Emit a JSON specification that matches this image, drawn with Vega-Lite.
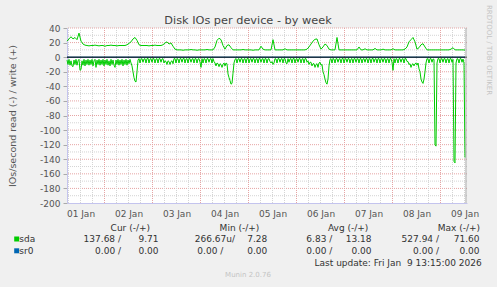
{
  "$schema": "https://vega.github.io/schema/vega-lite/v6.json",
  "width": 400,
  "height": 175,
  "autosize": "none",
  "padding": {"left": 67, "top": 28, "right": 30, "bottom": 84},
  "background": "#f0f0f0",
  "config": {"view": {"stroke": null, "fill": "#ffffff"}, "font": "DejaVu Sans"},
  "datasets": {
    "d": [
      {"t":"2026-01-01T05:15","w":22},{"t":"2026-01-01T06:15","w":25},{"t":"2026-01-01T07:15","w":28},{"t":"2026-01-01T08:15","w":25},{"t":"2026-01-01T09:15","w":27},{"t":"2026-01-01T10:15","w":24},{"t":"2026-01-01T11:15","w":33},{"t":"2026-01-01T12:15","w":22},{"t":"2026-01-01T13:15","w":18},{"t":"2026-01-01T14:15","w":16.5},{"t":"2026-01-01T15:15","w":16},{"t":"2026-01-01T16:15","w":15.5},{"t":"2026-01-01T17:15","w":16},{"t":"2026-01-01T18:15","w":16},{"t":"2026-01-01T19:15","w":16.5},{"t":"2026-01-01T20:15","w":16},{"t":"2026-01-01T21:15","w":15.5},{"t":"2026-01-01T22:15","w":16},{"t":"2026-01-01T23:15","w":16},
      {"t":"2026-01-02T00:15","w":15},{"t":"2026-01-02T01:15","w":16},{"t":"2026-01-02T02:15","w":16},{"t":"2026-01-02T03:15","w":16.5},{"t":"2026-01-02T04:15","w":16},{"t":"2026-01-02T05:15","w":16},{"t":"2026-01-02T06:15","w":15.5},{"t":"2026-01-02T07:15","w":16},{"t":"2026-01-02T08:15","w":16},{"t":"2026-01-02T09:15","w":16},{"t":"2026-01-02T10:15","w":16},{"t":"2026-01-02T11:15","w":17},{"t":"2026-01-02T12:15","w":19},{"t":"2026-01-02T13:15","w":21},{"t":"2026-01-02T14:15","w":25},{"t":"2026-01-02T15:15","w":27},{"t":"2026-01-02T16:15","w":23},{"t":"2026-01-02T17:15","w":17},{"t":"2026-01-02T18:15","w":16},{"t":"2026-01-02T19:15","w":16},{"t":"2026-01-02T20:15","w":16},{"t":"2026-01-02T21:15","w":16},{"t":"2026-01-02T22:15","w":15.5},{"t":"2026-01-02T23:15","w":16},
      {"t":"2026-01-03T00:15","w":16},{"t":"2026-01-03T01:15","w":16.5},{"t":"2026-01-03T02:15","w":16},{"t":"2026-01-03T03:15","w":16},{"t":"2026-01-03T04:15","w":16},{"t":"2026-01-03T05:15","w":17},{"t":"2026-01-03T06:15","w":19.5},{"t":"2026-01-03T07:15","w":21},{"t":"2026-01-03T08:15","w":18},{"t":"2026-01-03T09:15","w":19.5},{"t":"2026-01-03T10:15","w":15},{"t":"2026-01-03T11:15","w":11},{"t":"2026-01-03T12:15","w":10},{"t":"2026-01-03T13:15","w":10},{"t":"2026-01-03T14:15","w":10},{"t":"2026-01-03T15:15","w":9.5},{"t":"2026-01-03T16:15","w":10},{"t":"2026-01-03T17:15","w":10},{"t":"2026-01-03T18:15","w":10},{"t":"2026-01-03T19:15","w":10.5},{"t":"2026-01-03T20:15","w":10},{"t":"2026-01-03T21:15","w":10},{"t":"2026-01-03T22:15","w":9.5},{"t":"2026-01-03T23:15","w":10},
      {"t":"2026-01-04T00:15","w":10},{"t":"2026-01-04T01:15","w":10},{"t":"2026-01-04T02:15","w":10},{"t":"2026-01-04T03:15","w":10.5},{"t":"2026-01-04T04:15","w":10},{"t":"2026-01-04T05:15","w":10},{"t":"2026-01-04T06:15","w":10},{"t":"2026-01-04T07:15","w":14},{"t":"2026-01-04T08:15","w":23},{"t":"2026-01-04T09:15","w":26},{"t":"2026-01-04T10:15","w":24},{"t":"2026-01-04T11:15","w":16},{"t":"2026-01-04T12:15","w":11},{"t":"2026-01-04T13:15","w":16},{"t":"2026-01-04T14:15","w":17},{"t":"2026-01-04T15:15","w":13},{"t":"2026-01-04T16:15","w":10},{"t":"2026-01-04T17:15","w":10},{"t":"2026-01-04T18:15","w":10},{"t":"2026-01-04T19:15","w":10},{"t":"2026-01-04T20:15","w":10},{"t":"2026-01-04T21:15","w":10.5},{"t":"2026-01-04T22:15","w":10},{"t":"2026-01-04T23:15","w":10},
      {"t":"2026-01-05T00:15","w":10},{"t":"2026-01-05T01:15","w":10},{"t":"2026-01-05T02:15","w":9.5},{"t":"2026-01-05T03:15","w":10},{"t":"2026-01-05T04:15","w":10},{"t":"2026-01-05T05:15","w":10},{"t":"2026-01-05T06:15","w":15},{"t":"2026-01-05T07:15","w":11},{"t":"2026-01-05T08:15","w":10},{"t":"2026-01-05T09:15","w":10},{"t":"2026-01-05T10:15","w":10},{"t":"2026-01-05T11:15","w":10},{"t":"2026-01-05T12:15","w":24},{"t":"2026-01-05T13:15","w":10},{"t":"2026-01-05T14:15","w":10},{"t":"2026-01-05T15:15","w":10},{"t":"2026-01-05T16:15","w":10},{"t":"2026-01-05T17:15","w":10},{"t":"2026-01-05T18:15","w":11.5},{"t":"2026-01-05T19:15","w":10},{"t":"2026-01-05T20:15","w":10},{"t":"2026-01-05T21:15","w":10},{"t":"2026-01-05T22:15","w":10},{"t":"2026-01-05T23:15","w":10},
      {"t":"2026-01-06T00:15","w":10},{"t":"2026-01-06T01:15","w":10},{"t":"2026-01-06T02:15","w":10},{"t":"2026-01-06T03:15","w":10},{"t":"2026-01-06T04:15","w":10},{"t":"2026-01-06T05:15","w":11},{"t":"2026-01-06T06:15","w":14},{"t":"2026-01-06T07:15","w":18},{"t":"2026-01-06T08:15","w":22},{"t":"2026-01-06T09:15","w":24.5},{"t":"2026-01-06T10:15","w":25},{"t":"2026-01-06T11:15","w":17},{"t":"2026-01-06T12:15","w":11},{"t":"2026-01-06T13:15","w":14},{"t":"2026-01-06T14:15","w":18},{"t":"2026-01-06T15:15","w":16},{"t":"2026-01-06T16:15","w":11},{"t":"2026-01-06T17:15","w":10},{"t":"2026-01-06T18:15","w":10},{"t":"2026-01-06T19:15","w":10},{"t":"2026-01-06T20:15","w":27},{"t":"2026-01-06T21:15","w":10},{"t":"2026-01-06T22:15","w":10},{"t":"2026-01-06T23:15","w":10},
      {"t":"2026-01-07T00:15","w":10},{"t":"2026-01-07T01:15","w":10},{"t":"2026-01-07T02:15","w":10},{"t":"2026-01-07T03:15","w":10},{"t":"2026-01-07T04:15","w":10},{"t":"2026-01-07T05:15","w":10},{"t":"2026-01-07T06:15","w":10},{"t":"2026-01-07T07:15","w":14},{"t":"2026-01-07T08:15","w":10},{"t":"2026-01-07T09:15","w":10},{"t":"2026-01-07T10:15","w":11.5},{"t":"2026-01-07T11:15","w":10},{"t":"2026-01-07T12:15","w":10},{"t":"2026-01-07T13:15","w":10},{"t":"2026-01-07T14:15","w":10},{"t":"2026-01-07T15:15","w":12},{"t":"2026-01-07T16:15","w":10},{"t":"2026-01-07T17:15","w":10},{"t":"2026-01-07T18:15","w":10},{"t":"2026-01-07T19:15","w":11},{"t":"2026-01-07T20:15","w":10},{"t":"2026-01-07T21:15","w":10},{"t":"2026-01-07T22:15","w":10},{"t":"2026-01-07T23:15","w":10},
      {"t":"2026-01-08T00:15","w":11.5},{"t":"2026-01-08T01:15","w":10},{"t":"2026-01-08T02:15","w":10},{"t":"2026-01-08T03:15","w":10},{"t":"2026-01-08T04:15","w":10},{"t":"2026-01-08T05:15","w":10},{"t":"2026-01-08T06:15","w":11},{"t":"2026-01-08T07:15","w":14},{"t":"2026-01-08T08:15","w":21},{"t":"2026-01-08T09:15","w":24},{"t":"2026-01-08T10:15","w":27},{"t":"2026-01-08T11:15","w":21},{"t":"2026-01-08T12:15","w":11},{"t":"2026-01-08T13:15","w":13},{"t":"2026-01-08T14:15","w":17},{"t":"2026-01-08T15:15","w":18.5},{"t":"2026-01-08T16:15","w":14},{"t":"2026-01-08T17:15","w":10},{"t":"2026-01-08T18:15","w":10},{"t":"2026-01-08T19:15","w":10},{"t":"2026-01-08T20:15","w":10},{"t":"2026-01-08T21:15","w":10},{"t":"2026-01-08T22:15","w":10},{"t":"2026-01-08T23:15","w":10},
      {"t":"2026-01-09T00:15","w":10},{"t":"2026-01-09T01:15","w":10},{"t":"2026-01-09T02:15","w":10},{"t":"2026-01-09T03:15","w":10},{"t":"2026-01-09T04:15","w":10},{"t":"2026-01-09T05:15","w":11},{"t":"2026-01-09T06:15","w":13},{"t":"2026-01-09T07:15","w":10},{"t":"2026-01-09T08:15","w":10},{"t":"2026-01-09T09:15","w":10},{"t":"2026-01-09T10:15","w":10},{"t":"2026-01-09T11:15","w":10},{"t":"2026-01-09T12:15","w":9.71}
    ],
    "rd": [
      {"t":"2026-01-01T05:15","v":-4},{"t":"2026-01-01T05:45","v":-10},{"t":"2026-01-01T06:15","v":-3},{"t":"2026-01-01T06:45","v":-11},{"t":"2026-01-01T07:15","v":-5},{"t":"2026-01-01T07:45","v":-12},{"t":"2026-01-01T08:15","v":-13},{"t":"2026-01-01T08:45","v":-4},{"t":"2026-01-01T09:15","v":-10},{"t":"2026-01-01T09:45","v":-3},{"t":"2026-01-01T10:15","v":-11},{"t":"2026-01-01T10:45","v":-5},{"t":"2026-01-01T11:15","v":-3},{"t":"2026-01-01T11:45","v":-18},{"t":"2026-01-01T12:15","v":-17},{"t":"2026-01-01T12:45","v":-5},{"t":"2026-01-01T13:15","v":-11},{"t":"2026-01-01T13:45","v":-3},{"t":"2026-01-01T14:15","v":-12},{"t":"2026-01-01T14:45","v":-4},{"t":"2026-01-01T15:15","v":-10},{"t":"2026-01-01T15:45","v":-3},{"t":"2026-01-01T16:15","v":-11},{"t":"2026-01-01T16:45","v":-4},{"t":"2026-01-01T17:15","v":-10},{"t":"2026-01-01T17:45","v":-3},{"t":"2026-01-01T18:15","v":-12},{"t":"2026-01-01T18:45","v":-5},{"t":"2026-01-01T19:15","v":-3},{"t":"2026-01-01T19:45","v":-14},{"t":"2026-01-01T20:15","v":-4},{"t":"2026-01-01T20:45","v":-10},{"t":"2026-01-01T21:15","v":-3},{"t":"2026-01-01T21:45","v":-11},{"t":"2026-01-01T22:15","v":-4},{"t":"2026-01-01T22:45","v":-10},{"t":"2026-01-01T23:15","v":-3},{"t":"2026-01-01T23:45","v":-12},
      {"t":"2026-01-02T00:15","v":-4},{"t":"2026-01-02T00:45","v":-10},{"t":"2026-01-02T01:15","v":-3},{"t":"2026-01-02T01:45","v":-11},{"t":"2026-01-02T02:15","v":-5},{"t":"2026-01-02T02:45","v":-12},{"t":"2026-01-02T03:15","v":-3},{"t":"2026-01-02T03:45","v":-10},{"t":"2026-01-02T04:15","v":-4},{"t":"2026-01-02T04:45","v":-11},{"t":"2026-01-02T05:15","v":-14},{"t":"2026-01-02T05:45","v":-4},{"t":"2026-01-02T06:15","v":-10},{"t":"2026-01-02T06:45","v":-3},{"t":"2026-01-02T07:15","v":-11},{"t":"2026-01-02T07:45","v":-4},{"t":"2026-01-02T08:15","v":-10},{"t":"2026-01-02T08:45","v":-3},{"t":"2026-01-02T09:15","v":-12},{"t":"2026-01-02T09:45","v":-4},{"t":"2026-01-02T10:15","v":-10},{"t":"2026-01-02T10:45","v":-3},{"t":"2026-01-02T11:15","v":-11},{"t":"2026-01-02T11:45","v":-4},{"t":"2026-01-02T12:15","v":-9},{"t":"2026-01-02T12:45","v":-3},{"t":"2026-01-02T13:15","v":-8},{"t":"2026-01-02T13:45","v":-12},{"t":"2026-01-02T14:15","v":-20},{"t":"2026-01-02T14:45","v":-28},{"t":"2026-01-02T15:15","v":-33},{"t":"2026-01-02T15:45","v":-34},{"t":"2026-01-02T16:15","v":-20},{"t":"2026-01-02T16:45","v":-4},{"t":"2026-01-02T17:15","v":-2},{"t":"2026-01-02T17:45","v":-8},{"t":"2026-01-02T18:15","v":-2.5},{"t":"2026-01-02T18:45","v":-2},{"t":"2026-01-02T19:15","v":-7},{"t":"2026-01-02T19:45","v":-2.5},{"t":"2026-01-02T20:15","v":-2},{"t":"2026-01-02T20:45","v":-8},{"t":"2026-01-02T21:15","v":-2},{"t":"2026-01-02T21:45","v":-1.5},{"t":"2026-01-02T22:15","v":-8},{"t":"2026-01-02T22:45","v":-2.5},{"t":"2026-01-02T23:15","v":-2},{"t":"2026-01-02T23:45","v":-7},
      {"t":"2026-01-03T00:15","v":-2},{"t":"2026-01-03T00:45","v":-2},{"t":"2026-01-03T01:15","v":-8},{"t":"2026-01-03T01:45","v":-2.5},{"t":"2026-01-03T02:15","v":-2},{"t":"2026-01-03T02:45","v":-8},{"t":"2026-01-03T03:15","v":-2},{"t":"2026-01-03T03:45","v":-2},{"t":"2026-01-03T04:15","v":-7},{"t":"2026-01-03T04:45","v":-2.5},{"t":"2026-01-03T05:15","v":-2},{"t":"2026-01-03T05:45","v":-8},{"t":"2026-01-03T06:15","v":-5},{"t":"2026-01-03T06:45","v":-6},{"t":"2026-01-03T07:15","v":-10},{"t":"2026-01-03T07:45","v":-5},{"t":"2026-01-03T08:15","v":-6},{"t":"2026-01-03T08:45","v":-10},{"t":"2026-01-03T09:15","v":-6},{"t":"2026-01-03T09:45","v":-5},{"t":"2026-01-03T10:15","v":-9},{"t":"2026-01-03T10:45","v":-2},{"t":"2026-01-03T11:15","v":-2},{"t":"2026-01-03T11:45","v":-8},{"t":"2026-01-03T12:15","v":-2},{"t":"2026-01-03T12:45","v":-2.5},{"t":"2026-01-03T13:15","v":-8},{"t":"2026-01-03T13:45","v":-2},{"t":"2026-01-03T14:15","v":-2},{"t":"2026-01-03T14:45","v":-7},{"t":"2026-01-03T15:15","v":-2},{"t":"2026-01-03T15:45","v":-1.5},{"t":"2026-01-03T16:15","v":-8},{"t":"2026-01-03T16:45","v":-2.5},{"t":"2026-01-03T17:15","v":-2},{"t":"2026-01-03T17:45","v":-8},{"t":"2026-01-03T18:15","v":-2},{"t":"2026-01-03T18:45","v":-2},{"t":"2026-01-03T19:15","v":-7},{"t":"2026-01-03T19:45","v":-2.5},{"t":"2026-01-03T20:15","v":-2},{"t":"2026-01-03T20:45","v":-8},{"t":"2026-01-03T21:15","v":-2},{"t":"2026-01-03T21:45","v":-2},{"t":"2026-01-03T22:15","v":-8},{"t":"2026-01-03T22:45","v":-2.5},{"t":"2026-01-03T23:15","v":-2},{"t":"2026-01-03T23:45","v":-7},
      {"t":"2026-01-04T00:15","v":-14},{"t":"2026-01-04T00:45","v":-2},{"t":"2026-01-04T01:15","v":-8},{"t":"2026-01-04T01:45","v":-2},{"t":"2026-01-04T02:15","v":-2.5},{"t":"2026-01-04T02:45","v":-8},{"t":"2026-01-04T03:15","v":-2},{"t":"2026-01-04T03:45","v":-2},{"t":"2026-01-04T04:15","v":-7},{"t":"2026-01-04T04:45","v":-2.5},{"t":"2026-01-04T05:15","v":-2},{"t":"2026-01-04T05:45","v":-8},{"t":"2026-01-04T06:15","v":-2},{"t":"2026-01-04T06:45","v":-6},{"t":"2026-01-04T07:15","v":-8},{"t":"2026-01-04T07:45","v":-12},{"t":"2026-01-04T08:15","v":-8},{"t":"2026-01-04T08:45","v":-9},{"t":"2026-01-04T09:15","v":-13},{"t":"2026-01-04T09:45","v":-9},{"t":"2026-01-04T10:15","v":-10},{"t":"2026-01-04T10:45","v":-14},{"t":"2026-01-04T11:15","v":-10},{"t":"2026-01-04T11:45","v":-8},{"t":"2026-01-04T12:15","v":-12},{"t":"2026-01-04T12:45","v":-8},{"t":"2026-01-04T13:15","v":-9},{"t":"2026-01-04T13:45","v":-23},{"t":"2026-01-04T14:15","v":-28},{"t":"2026-01-04T14:45","v":-32},{"t":"2026-01-04T15:15","v":-37},{"t":"2026-01-04T15:45","v":-36},{"t":"2026-01-04T16:15","v":-22},{"t":"2026-01-04T16:45","v":-8},{"t":"2026-01-04T17:15","v":-3},{"t":"2026-01-04T17:45","v":-2},{"t":"2026-01-04T18:15","v":-8},{"t":"2026-01-04T18:45","v":-2.5},{"t":"2026-01-04T19:15","v":-2},{"t":"2026-01-04T19:45","v":-7},{"t":"2026-01-04T20:15","v":-2},{"t":"2026-01-04T20:45","v":-2},{"t":"2026-01-04T21:15","v":-8},{"t":"2026-01-04T21:45","v":-2.5},{"t":"2026-01-04T22:15","v":-2},{"t":"2026-01-04T22:45","v":-8},{"t":"2026-01-04T23:15","v":-2},{"t":"2026-01-04T23:45","v":-1.5},
      {"t":"2026-01-05T00:15","v":-8},{"t":"2026-01-05T00:45","v":-2.5},{"t":"2026-01-05T01:15","v":-2},{"t":"2026-01-05T01:45","v":-7},{"t":"2026-01-05T02:15","v":-2},{"t":"2026-01-05T02:45","v":-2},{"t":"2026-01-05T03:15","v":-8},{"t":"2026-01-05T03:45","v":-2.5},{"t":"2026-01-05T04:15","v":-2},{"t":"2026-01-05T04:45","v":-8},{"t":"2026-01-05T05:15","v":-2},{"t":"2026-01-05T05:45","v":-2},{"t":"2026-01-05T06:15","v":-7},{"t":"2026-01-05T06:45","v":-2.5},{"t":"2026-01-05T07:15","v":-2},{"t":"2026-01-05T07:45","v":-8},{"t":"2026-01-05T08:15","v":-2},{"t":"2026-01-05T08:45","v":-2},{"t":"2026-01-05T09:15","v":-8},{"t":"2026-01-05T09:45","v":-2.5},{"t":"2026-01-05T10:15","v":-2},{"t":"2026-01-05T10:45","v":-6},{"t":"2026-01-05T11:15","v":-8},{"t":"2026-01-05T11:45","v":-6},{"t":"2026-01-05T12:15","v":-10},{"t":"2026-01-05T12:45","v":-8},{"t":"2026-01-05T13:15","v":-2},{"t":"2026-01-05T13:45","v":-2.5},{"t":"2026-01-05T14:15","v":-8},{"t":"2026-01-05T14:45","v":-2},{"t":"2026-01-05T15:15","v":-2},{"t":"2026-01-05T15:45","v":-7},{"t":"2026-01-05T16:15","v":-2.5},{"t":"2026-01-05T16:45","v":-2},{"t":"2026-01-05T17:15","v":-8},{"t":"2026-01-05T17:45","v":-2},{"t":"2026-01-05T18:15","v":-2},{"t":"2026-01-05T18:45","v":-8},{"t":"2026-01-05T19:15","v":-9},{"t":"2026-01-05T19:45","v":-2},{"t":"2026-01-05T20:15","v":-7},{"t":"2026-01-05T20:45","v":-2.5},{"t":"2026-01-05T21:15","v":-2},{"t":"2026-01-05T21:45","v":-8},{"t":"2026-01-05T22:15","v":-2},{"t":"2026-01-05T22:45","v":-1.5},{"t":"2026-01-05T23:15","v":-8},{"t":"2026-01-05T23:45","v":-2.5},
      {"t":"2026-01-06T00:15","v":-2},{"t":"2026-01-06T00:45","v":-7},{"t":"2026-01-06T01:15","v":-2},{"t":"2026-01-06T01:45","v":-2},{"t":"2026-01-06T02:15","v":-8},{"t":"2026-01-06T02:45","v":-2.5},{"t":"2026-01-06T03:15","v":-2},{"t":"2026-01-06T03:45","v":-8},{"t":"2026-01-06T04:15","v":-2},{"t":"2026-01-06T04:45","v":-2},{"t":"2026-01-06T05:15","v":-7},{"t":"2026-01-06T05:45","v":-5},{"t":"2026-01-06T06:15","v":-10},{"t":"2026-01-06T06:45","v":-7},{"t":"2026-01-06T07:15","v":-7},{"t":"2026-01-06T07:45","v":-12},{"t":"2026-01-06T08:15","v":-9},{"t":"2026-01-06T08:45","v":-9},{"t":"2026-01-06T09:15","v":-14},{"t":"2026-01-06T09:45","v":-10},{"t":"2026-01-06T10:15","v":-9},{"t":"2026-01-06T10:45","v":-14},{"t":"2026-01-06T11:15","v":-8},{"t":"2026-01-06T11:45","v":-7},{"t":"2026-01-06T12:15","v":-11},{"t":"2026-01-06T12:45","v":-10},{"t":"2026-01-06T13:15","v":-20},{"t":"2026-01-06T13:45","v":-24},{"t":"2026-01-06T14:15","v":-30},{"t":"2026-01-06T14:45","v":-35},{"t":"2026-01-06T15:15","v":-37},{"t":"2026-01-06T15:45","v":-30},{"t":"2026-01-06T16:15","v":-12},{"t":"2026-01-06T16:45","v":-3},{"t":"2026-01-06T17:15","v":-2},{"t":"2026-01-06T17:45","v":-8},{"t":"2026-01-06T18:15","v":-2},{"t":"2026-01-06T18:45","v":-2.5},{"t":"2026-01-06T19:15","v":-8},{"t":"2026-01-06T19:45","v":-2},{"t":"2026-01-06T20:15","v":-2},{"t":"2026-01-06T20:45","v":-7},{"t":"2026-01-06T21:15","v":-2.5},{"t":"2026-01-06T21:45","v":-2},{"t":"2026-01-06T22:15","v":-8},{"t":"2026-01-06T22:45","v":-2},{"t":"2026-01-06T23:15","v":-1.5},{"t":"2026-01-06T23:45","v":-8},
      {"t":"2026-01-07T00:15","v":-2.5},{"t":"2026-01-07T00:45","v":-2},{"t":"2026-01-07T01:15","v":-7},{"t":"2026-01-07T01:45","v":-2},{"t":"2026-01-07T02:15","v":-2},{"t":"2026-01-07T02:45","v":-8},{"t":"2026-01-07T03:15","v":-2.5},{"t":"2026-01-07T03:45","v":-2},{"t":"2026-01-07T04:15","v":-8},{"t":"2026-01-07T04:45","v":-2},{"t":"2026-01-07T05:15","v":-2},{"t":"2026-01-07T05:45","v":-7},{"t":"2026-01-07T06:15","v":-2.5},{"t":"2026-01-07T06:45","v":-2},{"t":"2026-01-07T07:15","v":-8},{"t":"2026-01-07T07:45","v":-2},{"t":"2026-01-07T08:15","v":-2},{"t":"2026-01-07T08:45","v":-8},{"t":"2026-01-07T09:15","v":-2.5},{"t":"2026-01-07T09:45","v":-2},{"t":"2026-01-07T10:15","v":-7},{"t":"2026-01-07T10:45","v":-2},{"t":"2026-01-07T11:15","v":-2},{"t":"2026-01-07T11:45","v":-8},{"t":"2026-01-07T12:15","v":-2.5},{"t":"2026-01-07T12:45","v":-2},{"t":"2026-01-07T13:15","v":-8},{"t":"2026-01-07T13:45","v":-2},{"t":"2026-01-07T14:15","v":-1.5},{"t":"2026-01-07T14:45","v":-7},{"t":"2026-01-07T15:15","v":-2.5},{"t":"2026-01-07T15:45","v":-2},{"t":"2026-01-07T16:15","v":-8},{"t":"2026-01-07T16:45","v":-2},{"t":"2026-01-07T17:15","v":-2},{"t":"2026-01-07T17:45","v":-8},{"t":"2026-01-07T18:15","v":-2.5},{"t":"2026-01-07T18:45","v":-2},{"t":"2026-01-07T19:15","v":-7},{"t":"2026-01-07T19:45","v":-2},{"t":"2026-01-07T20:15","v":-2},{"t":"2026-01-07T20:45","v":-8},{"t":"2026-01-07T21:15","v":-2.5},{"t":"2026-01-07T21:45","v":-2},{"t":"2026-01-07T22:15","v":-8},{"t":"2026-01-07T22:45","v":-2},{"t":"2026-01-07T23:15","v":-2},{"t":"2026-01-07T23:45","v":-7},
      {"t":"2026-01-08T00:15","v":-18},{"t":"2026-01-08T00:45","v":-2},{"t":"2026-01-08T01:15","v":-8},{"t":"2026-01-08T01:45","v":-2},{"t":"2026-01-08T02:15","v":-2.5},{"t":"2026-01-08T02:45","v":-8},{"t":"2026-01-08T03:15","v":-2},{"t":"2026-01-08T03:45","v":-2},{"t":"2026-01-08T04:15","v":-7},{"t":"2026-01-08T04:45","v":-2.5},{"t":"2026-01-08T05:15","v":-2},{"t":"2026-01-08T05:45","v":-8},{"t":"2026-01-08T06:15","v":-2},{"t":"2026-01-08T06:45","v":-2},{"t":"2026-01-08T07:15","v":-6},{"t":"2026-01-08T07:45","v":-6},{"t":"2026-01-08T08:15","v":-10},{"t":"2026-01-08T08:45","v":-9},{"t":"2026-01-08T09:15","v":-14},{"t":"2026-01-08T09:45","v":-10},{"t":"2026-01-08T10:15","v":-9},{"t":"2026-01-08T10:45","v":-12},{"t":"2026-01-08T11:15","v":-9},{"t":"2026-01-08T11:45","v":-8},{"t":"2026-01-08T12:15","v":-11},{"t":"2026-01-08T12:45","v":-8},{"t":"2026-01-08T13:15","v":-16},{"t":"2026-01-08T13:45","v":-20},{"t":"2026-01-08T14:15","v":-30},{"t":"2026-01-08T14:45","v":-34},{"t":"2026-01-08T15:15","v":-36},{"t":"2026-01-08T15:45","v":-30},{"t":"2026-01-08T16:15","v":-20},{"t":"2026-01-08T16:45","v":-8},{"t":"2026-01-08T17:15","v":-2},{"t":"2026-01-08T17:45","v":-2.5},{"t":"2026-01-08T18:15","v":-8},{"t":"2026-01-08T18:45","v":-2},{"t":"2026-01-08T19:15","v":-2},{"t":"2026-01-08T19:45","v":-7},{"t":"2026-01-08T20:15","v":-2.5},{"t":"2026-01-08T20:45","v":-3},{"t":"2026-01-08T21:15","v":-120},{"t":"2026-01-08T21:45","v":-122},{"t":"2026-01-08T22:15","v":-8},{"t":"2026-01-08T22:45","v":-2},{"t":"2026-01-08T23:15","v":-2},{"t":"2026-01-08T23:45","v":-8},
      {"t":"2026-01-09T00:15","v":-2.5},{"t":"2026-01-09T00:45","v":-2},{"t":"2026-01-09T01:15","v":-7},{"t":"2026-01-09T01:45","v":-2},{"t":"2026-01-09T02:15","v":-2},{"t":"2026-01-09T02:45","v":-8},{"t":"2026-01-09T03:15","v":-2.5},{"t":"2026-01-09T03:45","v":-2},{"t":"2026-01-09T04:15","v":-8},{"t":"2026-01-09T04:45","v":-2},{"t":"2026-01-09T05:15","v":-2},{"t":"2026-01-09T05:45","v":-7},{"t":"2026-01-09T06:15","v":-3},{"t":"2026-01-09T06:45","v":-143},{"t":"2026-01-09T07:15","v":-145},{"t":"2026-01-09T07:45","v":-8},{"t":"2026-01-09T08:15","v":-2},{"t":"2026-01-09T08:45","v":-2.5},{"t":"2026-01-09T09:15","v":-8},{"t":"2026-01-09T09:45","v":-2},{"t":"2026-01-09T10:15","v":-2},{"t":"2026-01-09T10:45","v":-7},{"t":"2026-01-09T11:15","v":-2.5},{"t":"2026-01-09T11:45","v":-8},{"t":"2026-01-09T12:15","v":-137.68}
    ],
    "sr0": [{"t":"2026-01-01T05:15","v":0},{"t":"2026-01-09T12:15","v":0}],
    "zero": [{"v":0}],
    "edge": [{"t":"2026-01-09T12:45"}],
    "hmin": [{"v":-190},{"v":-170},{"v":-150},{"v":-130},{"v":-110},{"v":-90},{"v":-70},{"v":-50},{"v":-30},{"v":-10},{"v":10},{"v":30}],
    "hmaj": [{"v":-180},{"v":-160},{"v":-140},{"v":-120},{"v":-100},{"v":-80},{"v":-60},{"v":-40},{"v":-20},{"v":20},{"v":40}],
    "vmin": [
      {"t":"2026-01-01T06:00"},{"t":"2026-01-01T12:00"},{"t":"2026-01-01T18:00"},
      {"t":"2026-01-02T06:00"},{"t":"2026-01-02T12:00"},{"t":"2026-01-02T18:00"},
      {"t":"2026-01-03T06:00"},{"t":"2026-01-03T12:00"},{"t":"2026-01-03T18:00"},
      {"t":"2026-01-04T06:00"},{"t":"2026-01-04T12:00"},{"t":"2026-01-04T18:00"},
      {"t":"2026-01-05T06:00"},{"t":"2026-01-05T12:00"},{"t":"2026-01-05T18:00"},
      {"t":"2026-01-06T06:00"},{"t":"2026-01-06T12:00"},{"t":"2026-01-06T18:00"},
      {"t":"2026-01-07T06:00"},{"t":"2026-01-07T12:00"},{"t":"2026-01-07T18:00"},
      {"t":"2026-01-08T06:00"},{"t":"2026-01-08T12:00"},{"t":"2026-01-08T18:00"},
      {"t":"2026-01-09T06:00"},{"t":"2026-01-09T12:00"}
    ],
    "vmaj": [{"t":"2026-01-02T00:00"},{"t":"2026-01-03T00:00"},{"t":"2026-01-04T00:00"},{"t":"2026-01-05T00:00"},{"t":"2026-01-06T00:00"},{"t":"2026-01-07T00:00"},{"t":"2026-01-08T00:00"},{"t":"2026-01-09T00:00"}],
    "swatch": [{"dev":"sda","c":1,"r":4},{"dev":"sr0","c":1,"r":5}],
    "names": [{"txt":"sda","c":2,"r":4},{"txt":"sr0","c":2,"r":5}],
    "cells": [
      {"txt":"Cur (-/+)","c":4,"r":3},{"txt":"Min (-/+)","c":9,"r":3},{"txt":"Avg (-/+)","c":12,"r":3},{"txt":"Max (-/+)","c":16,"r":3},
      {"txt":"137.68 /","c":3,"r":4},{"txt":"9.71","c":5,"r":4},{"txt":"266.67u/","c":7,"r":4},{"txt":"7.28","c":10,"r":4},{"txt":"6.83 /","c":11,"r":4},{"txt":"13.18","c":13,"r":4},{"txt":"527.94 /","c":14,"r":4},{"txt":"71.60","c":15,"r":4},
      {"txt":"0.00 /","c":3,"r":5},{"txt":"0.00","c":5,"r":5},{"txt":"0.00 /","c":6,"r":5},{"txt":"0.00","c":10,"r":5},{"txt":"0.00 /","c":11,"r":5},{"txt":"0.00","c":13,"r":5},{"txt":"0.00 /","c":14,"r":5},{"txt":"0.00","c":15,"r":5},
      {"txt":"Last update: Fri Jan\u00a0 9 13:15:00 2026","c":17,"r":6}
    ],
    "title": [{"txt":"Disk IOs per device - by week","c":8,"r":1}],
    "munin": [{"txt":"Munin 2.0.76","c":8,"r":7}],
    "rrd": [{"txt":"RRDTOOL / TOBI OETIKER","c":18,"r":2}]
  },
  "layer": [
    {"data":{"name":"hmin"},"mark":{"type":"rule","color":"#d4d4d4","strokeDash":[1,1],"strokeWidth":1},
     "encoding":{"y":{"field":"v","type":"quantitative","scale":{"domain":[-200,40],"nice":false,"zero":false},"axis":null}}},
    {"data":{"name":"hmaj"},"mark":{"type":"rule","color":"#e6a4a4","strokeDash":[1,1],"strokeWidth":1},
     "encoding":{"y":{"field":"v","type":"quantitative","scale":{"domain":[-200,40],"nice":false,"zero":false},"axis":null}}},
    {"data":{"name":"vmin"},"mark":{"type":"rule","color":"#d4d4d4","strokeDash":[1,1],"strokeWidth":1},
     "encoding":{"x":{"field":"t","type":"temporal","scale":{"domain":[{"year":2026,"month":1,"date":1,"hours":5,"minutes":15},{"year":2026,"month":1,"date":9,"hours":13,"minutes":15}]},"axis":null}}},
    {"data":{"name":"vmaj"},"mark":{"type":"rule","color":"#e6a4a4","strokeDash":[1,1],"strokeWidth":1},
     "encoding":{"x":{"field":"t","type":"temporal","scale":{"domain":[{"year":2026,"month":1,"date":1,"hours":5,"minutes":15},{"year":2026,"month":1,"date":9,"hours":13,"minutes":15}]},"axis":null}}},
    {"data":{"name":"sr0"},"mark":{"type":"line","color":"#0066b3","strokeWidth":1},
     "encoding":{"x":{"field":"t","type":"temporal","scale":{"domain":[{"year":2026,"month":1,"date":1,"hours":5,"minutes":15},{"year":2026,"month":1,"date":9,"hours":13,"minutes":15}]},"axis":null},
                 "y":{"field":"v","type":"quantitative","scale":{"domain":[-200,40],"nice":false,"zero":false},"axis":null}}},
    {"data":{"name":"d"},"mark":{"type":"line","color":"#00cc00","strokeWidth":1},
     "encoding":{
       "x":{"field":"t","type":"temporal","scale":{"domain":[{"year":2026,"month":1,"date":1,"hours":5,"minutes":15},{"year":2026,"month":1,"date":9,"hours":13,"minutes":15}]},
            "axis":{"orient":"bottom","title":null,"grid":false,"ticks":false,"format":"%d %b","labelFontSize":9,"labelColor":"#555555","labelPadding":6,"domainColor":"#c4c4ee","labelFlush":false,"labelOverlap":false,
                    "values":[{"year":2026,"month":1,"date":1,"hours":12},{"year":2026,"month":1,"date":2,"hours":12},{"year":2026,"month":1,"date":3,"hours":12},{"year":2026,"month":1,"date":4,"hours":12},{"year":2026,"month":1,"date":5,"hours":12},{"year":2026,"month":1,"date":6,"hours":12},{"year":2026,"month":1,"date":7,"hours":12},{"year":2026,"month":1,"date":8,"hours":12},{"year":2026,"month":1,"date":9,"hours":12}]}},
       "y":{"field":"w","type":"quantitative","scale":{"domain":[-200,40],"nice":false,"zero":false},
            "axis":{"orient":"left","title":"IOs/second read (-) / write (+)","titleFontSize":9.5,"titleFontWeight":"normal","titleColor":"#555555","titleX":-55,"titleY":87.5,"titleBaseline":"middle",
                    "grid":false,"values":[-200,-180,-160,-140,-120,-100,-80,-60,-40,-20,0,20,40],"labelExpr":"'' + datum.value","labelFontSize":9,"labelColor":"#555555","tickSize":4,"tickColor":"#aaaaaa","labelPadding":3,"domainColor":"#c4c4ee","labelFlush":false,"labelOverlap":false}}}},
    {"data":{"name":"rd"},"mark":{"type":"line","color":"#00cc00","strokeWidth":1},
     "encoding":{"x":{"field":"t","type":"temporal","scale":{"domain":[{"year":2026,"month":1,"date":1,"hours":5,"minutes":15},{"year":2026,"month":1,"date":9,"hours":13,"minutes":15}]},"axis":null},
                 "y":{"field":"v","type":"quantitative","scale":{"domain":[-200,40],"nice":false,"zero":false},"axis":null}}},
    {"data":{"name":"zero"},"mark":{"type":"rule","color":"#000000","strokeWidth":1},
     "encoding":{"y":{"field":"v","type":"quantitative","scale":{"domain":[-200,40],"nice":false,"zero":false},"axis":null}}},
    {"data":{"name":"edge"},"mark":{"type":"rule","color":"#a0a0a0","strokeWidth":1},
     "encoding":{"x":{"field":"t","type":"temporal","scale":{"domain":[{"year":2026,"month":1,"date":1,"hours":5,"minutes":15},{"year":2026,"month":1,"date":9,"hours":13,"minutes":15}]},"axis":null}}},
    {
      "encoding": {
        "x": {"field":"c","type":"quantitative","axis":null,
              "scale":{"nice":false,"zero":false,"domain":[1,2,3,4,5,6,7,8,9,10,11,12,13,14,15,16,17,18],
                       "range":[-50.3,-47.7,54,83,91.5,156.3,168,181,192.3,200.3,265.3,301.3,304.5,372,412.5,413,414.7,422]}},
        "y": {"field":"r","type":"quantitative","axis":null,
              "scale":{"nice":false,"zero":false,"domain":[1,2,3,4,5,6,7],
                       "range":[-6.9,22,199.7,211,222.8,235,247]}}
      },
      "layer": [
        {"data":{"name":"swatch"},"mark":{"type":"point","shape":"square","filled":true,"size":25,"opacity":1},
         "encoding":{"color":{"field":"dev","type":"nominal","scale":{"domain":["sda","sr0"],"range":["#00cc00","#0066b3"]},"legend":null}}},
        {"data":{"name":"names"},"mark":{"type":"text","align":"left","baseline":"middle","fontSize":9,"color":"#333333"},
         "encoding":{"text":{"field":"txt"}}},
        {"data":{"name":"cells"},"mark":{"type":"text","align":"right","baseline":"middle","fontSize":9,"color":"#333333"},
         "encoding":{"text":{"field":"txt"}}},
        {"data":{"name":"title"},"mark":{"type":"text","align":"center","baseline":"middle","fontSize":11.3,"color":"#444444"},
         "encoding":{"text":{"field":"txt"}}},
        {"data":{"name":"munin"},"mark":{"type":"text","align":"center","baseline":"middle","fontSize":7,"color":"#c4c4c4"},
         "encoding":{"text":{"field":"txt"}}},
        {"data":{"name":"rrd"},"mark":{"type":"text","align":"center","baseline":"middle","fontSize":7,"angle":90,"color":"#c4c4c4"},
         "encoding":{"text":{"field":"txt"}}}
      ]
    }
  ],
  "resolve": {"scale": {"x": "independent", "y": "independent"}}
}
